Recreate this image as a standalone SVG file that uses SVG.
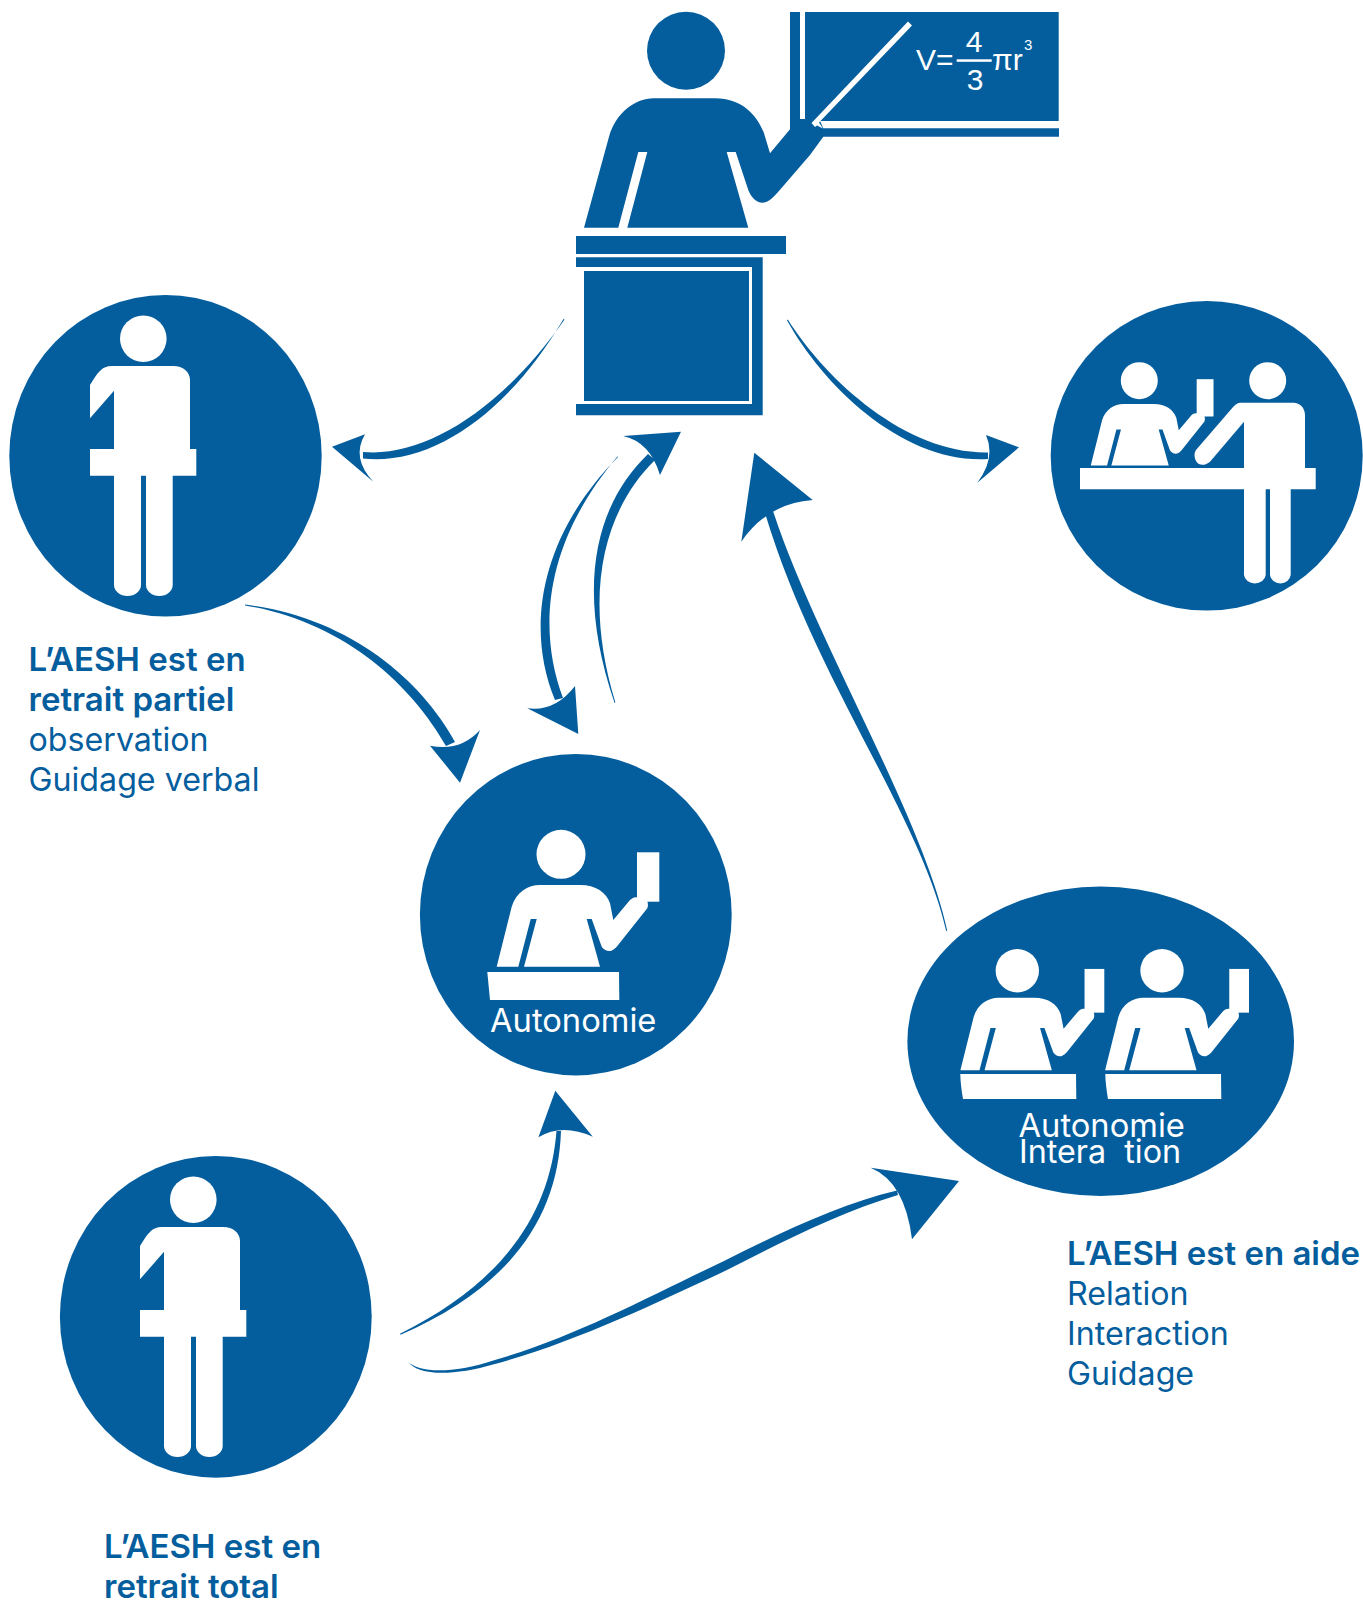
<svg xmlns="http://www.w3.org/2000/svg" width="1363" height="1600" viewBox="0 0 1363 1600">
<style>
.b{fill:#045e9e}
.w{fill:#fff}
.lb{font-family:Inter,"Liberation Sans",sans-serif;font-size:32.2px;fill:#045e9e}
.sb{font-weight:600;font-size:33px}
.in{font-family:Inter,"Liberation Sans",sans-serif;font-size:32.7px;fill:#fff}
.fm{font-family:"Liberation Sans",sans-serif;fill:#fff;font-size:30px}
</style>
<defs>
<g id="student" class="w">
<circle cx="0" cy="0" r="24.5"/>
<rect x="76" y="-2" width="22.3" height="49.4"/>
<path d="M-64.3 112.4L-49.3 52.4C-45 38 -33 30.7 -21 30.7H19C35 30.7 45 38 49 49L52.3 65.7L69 45.7C72 43 74 43 77 43H85C87 48 87.5 51 86.3 54L55.7 92.4C52 96 50 96.7 48.3 96.7C45 96.7 42.5 95 40.7 92.4L30.7 64.7H25.7L39 112.4H-37L-24.3 64.7H-30.3L-42.7 112.4Z"/>
</g>
<g id="person" class="w">
<circle cx="143.3" cy="338.7" r="23.3"/>
<path d="M90 385V418.3L114 390.7V449H90V475.7H114V585A13.5 11 0 0 0 141 585V475.7H146V585A13.3 11 0 0 0 172.7 585V475.7H196.3V449H190V380C190 372 183 366 173.3 366H111.7C102 366 98 372 90 385Z"/>
</g>
</defs>

<g id="connectors" class="b">
<g id="c-teacher-partial">
<path d="M564.5 319.6C503 408 425 458 363 452L363 458.5C432 466 508 413 563.5 319Z"/>
<path d="M332 446.7L365 434.3Q351 458 373.3 481.7Z"/>
</g>
<g id="c-teacher-aide">
<path d="M787.8 319.6C828 383 908 454 988 452.5L988 459C904 464 824 387 787 320.2Z"/>
<path d="M1019 447.3L986 435Q996 458 977.3 482.7Z"/>
</g>
<g id="c-partial-autonomie">
<path d="M245 604.6C347 617 420 678 455 742L446 746C410 683 343 622 245 605.4Z"/>
<path d="M460 782.7L430 745.7Q460 752 480 730Z"/>
</g>
<g id="c-teacher-autonomie">
<path d="M618 457C538 538 526 630 555 700L563 698C537 628 545 542 617.4 456.4Z"/>
<path d="M578.3 734L527.3 708.3Q555 712 575 686Z"/>
</g>
<g id="c-autonomie-teacher">
<path d="M614.6 702.9C577 593 592 508 648 454L655 460C602 512 583 597 615.4 702.5Z"/>
<path d="M681 431.7L623.3 436Q650 442 660 475Z"/>
</g>
<g id="c-interaction-teacher">
<path d="M946.2 931C920 815 815 680 765 513L773 511C815 640 922 815 947.2 930.4Z"/>
<path d="M754.3 452.7L812.7 500Q768 503 741.3 541.7Z"/>
</g>
<g id="c-total-autonomie">
<path d="M400 1333.8C504 1282 550 1213 556.5 1131L561 1131C558 1218 510 1287 400.6 1334.8Z"/>
<path d="M555.3 1090.7L538.4 1137.3Q562 1123 592.8 1136.7Z"/>
</g>
<g id="c-total-interaction">
<path d="M408 1361.7C418 1372 450 1375 495 1360C575 1337 650 1296 724 1261C780 1233 840 1204 897 1190.5L898 1195C840 1212 780 1243 727 1270C650 1306 575 1342 495 1364C450 1377 418 1375 408 1361.7Z"/>
<path d="M959 1181L870.6 1167.7Q905 1182 912 1239.3Z"/>
</g>
</g>

<g id="teacher" class="b">
<circle cx="686" cy="50.7" r="39"/>
<path d="M584 227.7L609 136.7C616 112 636 98.3 653.3 98.3H715C742 98.3 757 115 764 133.3L770 153.3L790 129.3V12H1058.7V121H820L823.3 128.3H1059V136.7H823.3L810 155L778.3 191.7C772 199 767 202.7 762.7 202.7C756 202.7 751 197 748.3 190L735.7 152H726.7L748.3 227.7H627.3L647.3 152H638.3L618.3 227.7Z"/>
<rect class="w" x="800" y="12" width="5" height="107"/>
<path class="w" d="M908 21.5L912 25.5L819 122.5L823 128.5L817 125.5L815 127L811.5 123Z"/>
<rect x="576" y="236" width="210" height="18"/>
<path d="M576 257.3H762.7V415.3H576V404H752V267H576Z"/>
<rect x="584" y="271" width="165" height="130"/>
<g class="fm">
<text x="916" y="70">V=</text>
<text x="974" y="51.5" text-anchor="middle">4</text>
<rect class="w" x="956.7" y="59.3" width="35" height="2.5"/>
<text x="975" y="89.5" text-anchor="middle">3</text>
<text x="992" y="69.5">πr</text>
<text x="1024" y="50" font-size="15">3</text>
</g>
</g>

<g id="node-partiel">
<ellipse class="b" cx="165.5" cy="455.8" rx="156.2" ry="160.8"/>
<use href="#person"/>
<g class="lb">
<text class="sb" x="28.5" y="670.7">L’AESH est en</text>
<text class="sb" x="28.5" y="710.7">retrait partiel</text>
<text x="28.5" y="750.7">observation</text>
<text x="28.5" y="790.7">Guidage verbal</text>
</g>
</g>

<g id="node-aide">
<ellipse class="b" cx="1206.7" cy="455.8" rx="156" ry="154.8"/>
<use href="#student" transform="translate(1139.3 380.7) scale(.755)"/>
<g class="w">
<circle cx="1267.7" cy="380.7" r="18.5"/>
<path d="M1240 402.7H1293.3C1300 402.7 1305 408 1305 415V468H1315.7V489.3H1290.7V575A10.4 9.3 0 0 1 1270 575V489.3H1265.7V575A10.9 9.3 0 0 1 1244 575V489.3H1080V468H1244V421.7L1210 461.7C1205 466 1199 466 1196 461C1194 457 1194 453 1196 450L1233.3 406.7C1236 404 1238 402.7 1240 402.7Z"/>
</g>
</g>

<g id="node-autonomie">
<ellipse class="b" cx="575.8" cy="914.7" rx="155.9" ry="160.7"/>
<use href="#student" transform="translate(561 854.3)"/>
<path class="w" d="M487.3 972H619L619.3 1000H490Z"/>
<text class="in" x="490" y="1031.7">Autonomie</text>
</g>

<g id="node-interaction">
<ellipse class="b" cx="1100.7" cy="1041.3" rx="193.3" ry="154.7"/>
<use href="#student" transform="translate(1017.3 970.7) scale(.885)"/>
<use href="#student" transform="translate(1162 970.7) scale(.885)"/>
<path class="w" d="M960.3 1074H1076L1076.3 1099H963Q960.5 1085 960.3 1074Z"/>
<path class="w" d="M1105.3 1074H1221L1221.3 1099H1108Q1105.5 1085 1105.3 1074Z"/>
<text class="in" x="1018.5" y="1137.3">Autonomie</text>
<text class="in" x="1019" y="1163.3" style="white-space:pre;font-size:32.3px">Intera  tion</text>
</g>

<g id="node-total">
<ellipse class="b" cx="215.8" cy="1316.8" rx="155.9" ry="160.9"/>
<use href="#person" transform="translate(50 861)"/>
<g class="lb">
<text class="sb" x="104" y="1558">L’AESH est en</text>
<text class="sb" x="104" y="1598">retrait total</text>
</g>
</g>

<g class="lb" id="label-aide">
<text class="sb" x="1067" y="1265">L’AESH est en aide</text>
<text x="1067" y="1305">Relation</text>
<text x="1067" y="1345">Interaction</text>
<text x="1067" y="1385">Guidage</text>
</g>
</svg>
